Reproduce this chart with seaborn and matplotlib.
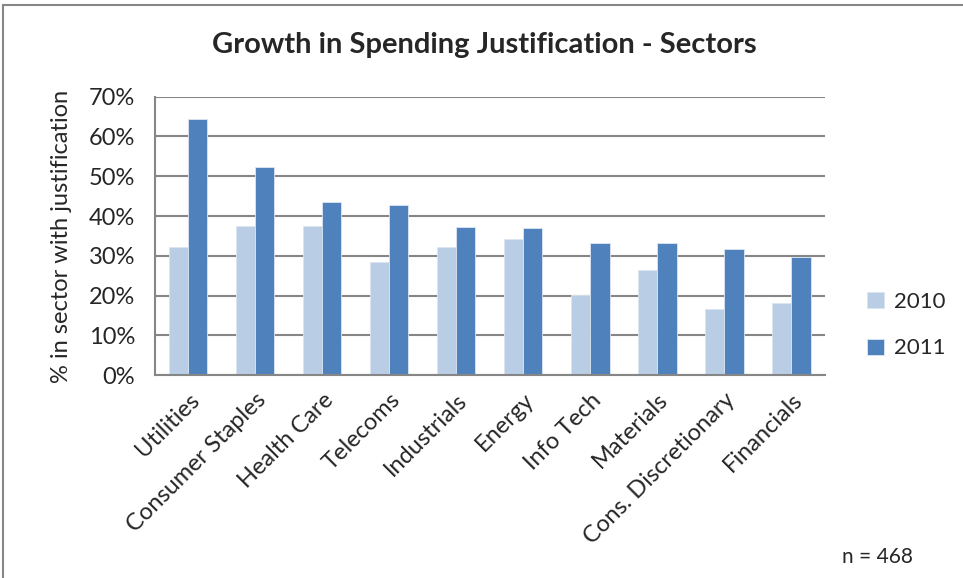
import seaborn as sns
import matplotlib.pyplot as plt
import pandas as pd
from matplotlib.ticker import PercentFormatter
from matplotlib.patches import Rectangle

# 데이터
sectors = ["Utilities", "Consumer Staples", "Health Care", "Telecoms", "Industrials",
           "Energy", "Info Tech", "Materials", "Cons. Discretionary", "Financials"]
years = ["2010", "2011"]
values_2010 = [0.322, 0.375, 0.375, 0.285, 0.322, 0.342, 0.202, 0.265, 0.166, 0.182]
values_2011 = [0.643, 0.523, 0.435, 0.428, 0.372, 0.369, 0.333, 0.333, 0.317, 0.297]
colors = ["#B9CDE5", "#4F81BD"]

df = pd.DataFrame({
    "sector": sectors * 2,
    "year": [years[0]] * len(sectors) + [years[1]] * len(sectors),
    "value": values_2010 + values_2011,
})

sns.set_style("white")
plt.rcParams['font.family'] = ['Lato', 'DejaVu Sans']

fig = plt.figure(figsize=(9.63, 5.78), dpi=100)
ax = fig.add_axes([0.1607, 0.3507, 0.696, 0.482])

sns.barplot(data=df, x="sector", y="value", hue="year", palette=colors,
            saturation=1, width=0.57, gap=0, ax=ax, edgecolor="#DCE6F2", linewidth=0.6)

# 축 설정
ax.set_ylim(0, 0.7)
ax.set_yticks([i / 10 for i in range(8)])
ax.yaxis.set_major_formatter(PercentFormatter(1.0, decimals=0))
ax.grid(axis="y", color="#868686", linewidth=1.5)
ax.set_axisbelow(True)
for s in ["top", "right"]:
    ax.spines[s].set_visible(False)
for s in ["left", "bottom"]:
    ax.spines[s].set_color("#868686")
    ax.spines[s].set_linewidth(1.5)
ax.tick_params(axis="both", length=0, labelsize=17)
ax.tick_params(axis="y", pad=14)
ax.tick_params(axis="x", pad=10)
plt.setp(ax.get_xticklabels(), rotation=45, ha="right", rotation_mode="anchor")

ax.set_xlabel("")
ax.set_ylabel("% in sector with justification", fontsize=17, labelpad=12)

# 제목
fig.text(0.503, 0.922, "Growth in Spending Justification - Sectors",
         ha="center", va="center", fontsize=21, fontweight="bold")

# 범례
leg = ax.legend(loc="center left", bbox_to_anchor=(1.033, 0.18), frameon=False,
                fontsize=16, handlelength=0.75, handleheight=0.75, handletextpad=0.45,
                labelspacing=1.2)

fig.text(0.874, 0.036, "n = 468", fontsize=15, ha="left", va="center")

# 바깥 테두리
fig.patches.append(Rectangle((3 / 963, -0.05), 1.2, 1 - 5 / 578 + 0.05,
                             transform=fig.transFigure, fill=False,
                             edgecolor="#868686", linewidth=1.5))

fig.savefig("out.png", dpi=100)
